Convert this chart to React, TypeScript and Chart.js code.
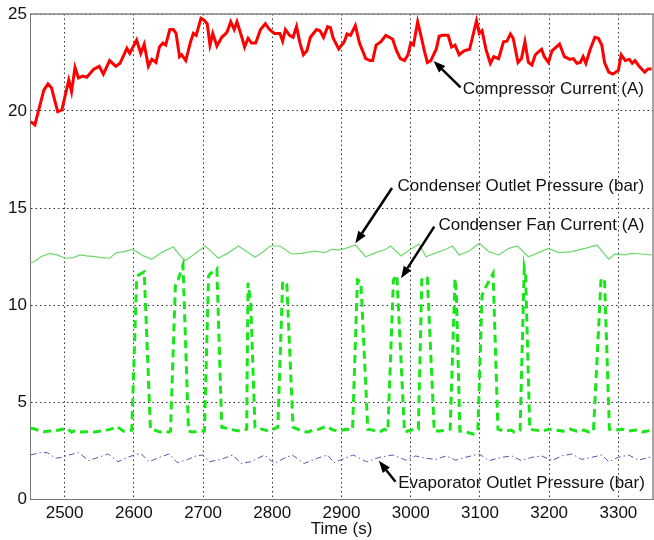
import React, { useEffect, useRef } from 'react';
import { Chart, registerables } from 'chart.js';

Chart.register(...registerables);

// ---- Data ----
const xTicks = [2500, 2600, 2700, 2800, 2900, 3000, 3100, 3200, 3300];
const yTicks = [0, 5, 10, 15, 20, 25];

const compTime = [2451, 2457, 2470, 2476, 2481, 2490, 2496, 2506, 2510, 2515, 2520, 2526, 2532, 2542, 2550, 2556, 2565, 2574, 2580, 2590, 2594, 2604, 2610, 2615, 2621, 2626, 2632, 2637, 2642, 2646, 2652, 2657, 2661, 2666, 2669, 2675, 2682, 2686, 2690, 2697, 2701, 2706, 2710, 2714, 2720, 2727, 2733, 2735, 2740, 2745, 2749, 2756, 2760, 2765, 2770, 2776, 2783, 2790, 2796, 2803, 2811, 2815, 2819, 2825, 2830, 2835, 2840, 2845, 2850, 2855, 2864, 2869, 2874, 2880, 2884, 2888, 2896, 2904, 2908, 2913, 2920, 2926, 2935, 2941, 2945, 2950, 2957, 2964, 2969, 2974, 2979, 2985, 2991, 2996, 3000, 3004, 3010, 3014, 3020, 3024, 3029, 3037, 3041, 3046, 3054, 3059, 3064, 3070, 3077, 3085, 3095, 3099, 3103, 3109, 3115, 3120, 3127, 3134, 3139, 3144, 3148, 3155, 3160, 3165, 3170, 3175, 3180, 3185, 3189, 3193, 3199, 3204, 3215, 3222, 3230, 3235, 3240, 3245, 3249, 3253, 3259, 3266, 3271, 3276, 3280, 3286, 3292, 3300, 3304, 3310, 3316, 3320, 3324, 3330, 3338, 3343, 3348];
const compCurrent = [19.45, 19.28, 21.08, 21.4, 21.2, 19.96, 20.05, 21.6, 21.0, 22.25, 21.7, 21.8, 21.74, 22.15, 22.3, 21.9, 22.6, 22.3, 22.46, 23.23, 22.97, 23.66, 22.97, 23.44, 22.3, 22.66, 22.5, 23.3, 23.5, 23.4, 24.2, 24.2, 24.0, 22.8, 22.9, 22.6, 23.57, 24.0, 23.9, 24.78, 24.7, 24.5, 23.4, 24.0, 23.35, 23.8, 24.0, 24.1, 24.6, 24.2, 24.6, 23.8, 23.3, 23.75, 23.5, 23.5, 24.2, 24.5, 24.2, 24.0, 24.0, 23.6, 24.2, 23.9, 23.8, 24.35, 23.5, 22.9, 23.1, 23.8, 24.2, 24.14, 23.8, 24.35, 24.3, 23.75, 23.2, 23.57, 23.97, 23.9, 24.4, 23.5, 22.7, 22.6, 22.6, 23.4, 23.57, 23.9, 23.8, 23.7, 23.15, 22.7, 22.6, 22.9, 23.5, 23.4, 24.6, 24.0, 23.06, 22.5, 22.6, 23.2, 23.85, 23.9, 23.9, 23.3, 23.4, 22.9, 23.1, 23.18, 24.65, 24.0, 24.14, 23.14, 22.46, 22.8, 22.7, 23.57, 23.6, 23.97, 23.75, 22.5, 22.7, 23.57, 22.5, 22.37, 22.9, 23.06, 23.18, 22.8, 22.5, 23.1, 23.45, 22.8, 22.66, 22.7, 22.46, 22.5, 22.8, 22.46, 23.14, 23.8, 23.75, 23.4, 22.5, 22.0, 21.9, 22.1, 22.9, 22.6, 22.66, 22.46, 22.6, 22.3, 22.0, 22.17, 22.17];

const condPTime = [2451, 2456, 2466, 2478, 2489, 2501, 2513, 2522, 2532, 2544, 2553, 2565, 2575, 2587, 2597, 2604, 2614, 2626, 2640, 2657, 2664, 2674, 2686, 2703, 2712, 2722, 2737, 2751, 2765, 2775, 2787, 2797, 2811, 2828, 2842, 2861, 2876, 2886, 2898, 2906, 2920, 2935, 2950, 2964, 2971, 2986, 2998, 3012, 3022, 3037, 3051, 3060, 3070, 3085, 3099, 3113, 3127, 3142, 3154, 3170, 3185, 3199, 3214, 3233, 3252, 3269, 3286, 3295, 3309, 3319, 3333, 3348];
const condPressure = [12.18, 12.23, 12.49, 12.66, 12.58, 12.41, 12.44, 12.58, 12.53, 12.49, 12.44, 12.41, 12.7, 12.75, 12.87, 12.75, 12.53, 12.36, 12.7, 13.0, 12.66, 12.28, 12.58, 13.04, 12.75, 12.41, 12.7, 13.04, 12.7, 12.46, 12.75, 13.04, 13.04, 12.63, 12.66, 12.78, 12.7, 12.87, 12.84, 12.92, 13.09, 12.49, 12.7, 12.87, 13.04, 12.53, 12.84, 13.14, 12.49, 12.7, 12.87, 13.04, 12.58, 12.8, 13.18, 12.75, 12.58, 12.92, 13.04, 12.49, 12.7, 12.92, 12.7, 12.75, 12.92, 13.09, 12.36, 12.63, 12.58, 12.66, 12.63, 12.58];

const fanTime = [2451, 2456, 2463, 2470, 2478, 2485, 2495, 2504, 2510, 2513, 2522, 2533, 2543, 2552, 2560, 2566, 2576, 2585, 2591, 2597, 2604, 2607, 2615, 2624, 2630, 2638, 2645, 2650, 2653, 2660, 2664, 2671, 2679, 2685, 2695, 2702, 2708, 2711, 2717, 2720, 2727, 2735, 2745, 2755, 2763, 2765, 2769, 2775, 2785, 2795, 2805, 2808, 2815, 2818, 2821, 2830, 2840, 2850, 2860, 2868, 2878, 2888, 2898, 2906, 2913, 2916, 2923, 2928, 2938, 2945, 2955, 2962, 2967, 2975, 2980, 2991, 3000, 3008, 3011, 3016, 3019, 3024, 3034, 3042, 3050, 3057, 3064, 3066, 3071, 3080, 3090, 3097, 3103, 3108, 3119, 3126, 3135, 3145, 3150, 3158, 3164, 3166, 3172, 3180, 3190, 3200, 3210, 3220, 3230, 3240, 3250, 3258, 3264, 3275, 3280, 3287, 3295, 3305, 3315, 3325, 3335, 3348];
const fanCurrent = [3.64, 3.62, 3.52, 3.47, 3.5, 3.5, 3.58, 3.64, 3.44, 3.5, 3.45, 3.47, 3.45, 3.5, 3.55, 3.59, 3.73, 3.5, 3.52, 3.55, 11.3, 11.55, 11.7, 3.6, 3.55, 3.45, 3.5, 3.45, 3.5, 11.0, 11.3, 12.06, 3.5, 3.45, 3.5, 3.5, 11.5, 11.65, 11.7, 11.84, 3.7, 3.65, 3.55, 3.5, 3.6, 11.15, 10.0, 3.7, 3.6, 3.5, 3.65, 3.7, 11.2, 11.2, 11.08, 3.7, 3.55, 3.45, 3.55, 3.6, 3.75, 3.55, 3.5, 3.6, 3.55, 3.6, 11.29, 11.2, 3.6, 3.55, 3.45, 3.6, 3.5, 11.29, 11.55, 3.45, 3.55, 3.6, 3.6, 11.3, 11.46, 11.4, 3.5, 3.5, 3.55, 3.6, 11.37, 10.5, 3.5, 3.45, 3.35, 3.5, 10.5, 10.9, 11.63, 3.6, 3.5, 3.55, 3.45, 3.55, 11.89, 11.5, 3.6, 3.55, 3.5, 3.6, 3.55, 3.5, 3.6, 3.5, 3.55, 3.45, 3.5, 11.37, 11.3, 3.6, 3.55, 3.6, 3.5, 3.55, 3.45, 3.55];

const evapTime = [2451, 2465, 2475, 2487, 2496, 2506, 2520, 2535, 2549, 2563, 2577, 2591, 2601, 2610, 2622, 2637, 2651, 2663, 2678, 2690, 2700, 2709, 2726, 2743, 2755, 2769, 2789, 2803, 2817, 2829, 2846, 2865, 2880, 2889, 2898, 2917, 2936, 2955, 2974, 2993, 3007, 3022, 3036, 3051, 3065, 3079, 3099, 3113, 3132, 3146, 3160, 3175, 3189, 3204, 3218, 3233, 3247, 3262, 3276, 3286, 3300, 3315, 3329, 3348];
const evapPressure = [2.27, 2.39, 2.39, 2.1, 2.15, 2.27, 2.39, 1.98, 2.15, 2.32, 1.92, 2.15, 2.27, 2.35, 1.92, 2.15, 2.32, 1.87, 2.04, 2.22, 2.27, 1.92, 2.04, 2.27, 1.83, 1.92, 2.27, 1.83, 2.1, 2.27, 1.83, 2.1, 2.27, 1.87, 2.0, 2.27, 1.92, 2.15, 2.27, 2.0, 2.22, 2.1, 2.04, 2.22, 2.0, 2.15, 2.32, 1.98, 2.15, 2.22, 1.98, 2.15, 2.22, 1.98, 2.22, 2.32, 2.04, 2.15, 2.27, 1.92, 2.15, 2.27, 2.0, 2.18];

// Annotation labels (anchored in data coordinates)
const annLabels = ['Compressor Current (A)', 'Condenser Outlet Pressure (bar)', 'Condenser Fan Current (A)', 'Evaporator Outlet Pressure (bar)'];
const annText = [[3075, 21.13], [2981, 16.1], [3040, 14.12], [2982, 0.81]];
const annTail = [[3072, 21.22], [2973, 16.03], [3034, 14.04], [2978, 0.89]];
const annHead = [[3033, 22.58], [2920, 13.18], [2986, 11.38], [2954, 1.97]];

const FONT = '"Liberation Sans", Arial, sans-serif';

function pts(t: number[], v: number[]) {
  return t.map((x, i) => ({ x, y: v[i] }));
}

const overlayPlugin = {
  id: 'overlay',
  afterDatasetsDraw(chart: any) {
    const { ctx, chartArea, scales } = chart;
    const xs = scales.x;
    const ys = scales.y;
    ctx.save();
    ctx.strokeStyle = '#888';
    ctx.lineWidth = 1.5;
    ctx.setLineDash([]);
    ctx.beginPath();
    ctx.moveTo(chartArea.left, chartArea.top);
    ctx.lineTo(chartArea.right, chartArea.top);
    ctx.lineTo(chartArea.right, chartArea.bottom);
    ctx.stroke();

    for (let i = 0; i < annLabels.length; i++) {
      const tx = xs.getPixelForValue(annTail[i][0]);
      const ty = ys.getPixelForValue(annTail[i][1]);
      const hx = xs.getPixelForValue(annHead[i][0]);
      const hy = ys.getPixelForValue(annHead[i][1]);
      const ang = Math.atan2(hy - ty, hx - tx);
      const hl = 12;
      const hw = 4.5;
      const bx = hx - hl * Math.cos(ang);
      const by = hy - hl * Math.sin(ang);
      ctx.strokeStyle = '#000';
      ctx.fillStyle = '#000';
      ctx.lineWidth = 2.5;
      ctx.beginPath();
      ctx.moveTo(tx, ty);
      ctx.lineTo(bx, by);
      ctx.stroke();
      ctx.beginPath();
      ctx.moveTo(hx, hy);
      ctx.lineTo(bx + hw * Math.sin(ang), by - hw * Math.cos(ang));
      ctx.lineTo(bx - hw * Math.sin(ang), by + hw * Math.cos(ang));
      ctx.closePath();
      ctx.fill();

      ctx.font = '17px ' + FONT;
      ctx.textAlign = 'left';
      ctx.textBaseline = 'middle';
      ctx.fillStyle = '#111';
      ctx.fillText(annLabels[i], xs.getPixelForValue(annText[i][0]), ys.getPixelForValue(annText[i][1]));
    }
    ctx.restore();
  },
};

export default function App() {
  const ref = useRef<HTMLCanvasElement | null>(null);

  useEffect(() => {
    document.body.style.margin = '0';
    const canvas = ref.current;
    if (!canvas) return;
    const gridCommon = {
      color: '#333',
      lineWidth: 1,
      drawTicks: false,
    };
    const chart = new Chart(canvas, {
      type: 'line',
      data: {
        datasets: [
          {
            label: 'Compressor Current (A)',
            data: pts(compTime, compCurrent),
            borderColor: '#ff0000',
            borderWidth: 3,
            pointRadius: 0,
            tension: 0,
          },
          {
            label: 'Condenser Outlet Pressure (bar)',
            data: pts(condPTime, condPressure),
            borderColor: '#6fd86f',
            borderWidth: 1.2,
            pointRadius: 0,
            tension: 0,
          },
          {
            label: 'Condenser Fan Current (A)',
            data: pts(fanTime, fanCurrent),
            borderColor: '#19e619',
            borderWidth: 3,
            borderDash: [8, 5],
            pointRadius: 0,
            tension: 0,
          },
          {
            label: 'Evaporator Outlet Pressure (bar)',
            data: pts(evapTime, evapPressure),
            borderColor: '#5555aa',
            borderWidth: 1,
            borderDash: [6, 3, 1.5, 3],
            pointRadius: 0,
            tension: 0,
          },
        ],
      },
      options: {
        responsive: false,
        animation: false,
        events: [],
        layout: { padding: { top: 14, right: 1, left: 0, bottom: 0 } },
        plugins: {
          legend: { display: false },
          tooltip: { enabled: false },
          title: { display: false },
        },
        scales: {
          x: {
            type: 'linear',
            min: 2450,
            max: 3350,
            afterBuildTicks: (s: any) => {
              s.ticks = xTicks.map((v) => ({ value: v }));
            },
            afterFit: (s: any) => {
              s.height = 41;
            },
            ticks: {
              font: { family: FONT, size: 17 },
              color: '#111',
              padding: 4,
              maxRotation: 0,
              autoSkip: false,
              callback: (v: any) => String(v),
            },
            grid: gridCommon,
            border: { display: true, color: '#777', width: 1, dash: [1.5, 3] },
            title: {
              display: true,
              text: 'Time (s)',
              font: { family: FONT, size: 17, lineHeight: 1 },
              color: '#111',
              padding: { top: 0, bottom: 2.5 },
            },
          },
          y: {
            type: 'linear',
            min: 0,
            max: 25,
            afterBuildTicks: (s: any) => {
              s.ticks = yTicks.map((v) => ({ value: v }));
            },
            afterFit: (s: any) => {
              s.width = 30;
            },
            ticks: {
              font: { family: FONT, size: 17 },
              color: '#111',
              padding: 3,
              callback: (v: any) => String(v),
            },
            grid: gridCommon,
            border: { display: true, color: '#777', width: 1, dash: [1.5, 3] },
          },
        },
      },
      plugins: [overlayPlugin],
    } as any);
    return () => chart.destroy();
  }, []);

  return <canvas ref={ref} width={654} height={540} style={{ display: 'block' }} />;
}
